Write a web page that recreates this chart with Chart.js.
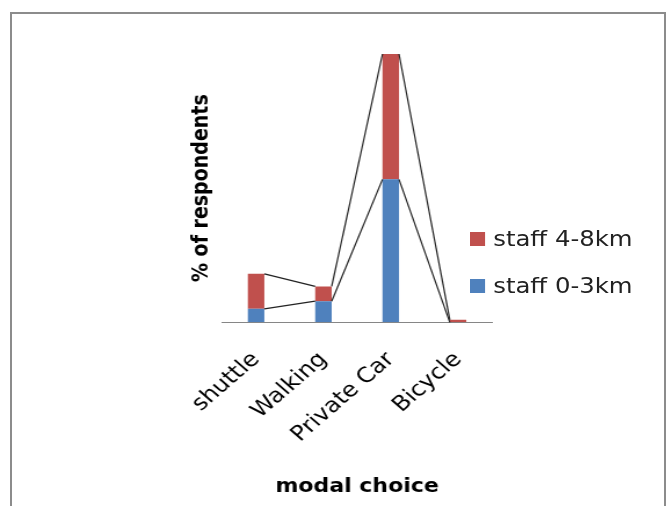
<!DOCTYPE html>
<html lang="en">
<head>
    <meta charset="UTF-8">
    <title>Modal choice</title>
    <script src="https://cdn.jsdelivr.net/npm/chart.js"></script>
    <style>
        html, body {
            margin: 0;
            padding: 0;
            width: 668px;
            height: 506px;
            overflow: hidden;
            background: #fff;
        }
        .frame {
            position: absolute;
            left: 10px;
            top: 12px;
            width: 652px;
            height: 600px;
            border: 2px solid #8c8c8c;
        }
        #chart {
            position: absolute;
            left: 0;
            top: 0;
        }
        .legend {
            position: absolute;
            left: 470px;
            top: 215px;
            transform: scaleX(1.16);
            transform-origin: 0 0;
            font-family: "DejaVu Sans", sans-serif;
            font-size: 21px;
            color: #222;
        }
        .legend-item {
            display: flex;
            align-items: center;
            height: 47px;
        }
        .legend-box {
            width: 13px;
            height: 14px;
            margin-right: 7px;
        }
    </style>
</head>
<body>
    <div class="frame"></div>
    <!-- canvas is drawn narrower and stretched sideways, like the original picture -->
    <canvas id="chart" width="576" height="506" style="width:668px;height:506px"></canvas>
    <div class="legend" id="legend"></div>

    <script>
        const modes = ['shuttle', 'Walking', 'Private Car', 'Bicycle'];
        const staffNear = [7.6, 11.9, 80.5, 0];   // staff 0-3km, %
        const staffFar = [19.7, 8.3, 70.6, 1.4];  // staff 4-8km, %
        const seriesNames = ['staff 0-3km', 'staff 4-8km'];
        const seriesColors = ['#4F81BD', '#C0504D'];

        // Excel-style series lines joining the tops of stacked bars
        const seriesLines = {
            id: 'seriesLines',
            afterDatasetsDraw(chart) {
                const ctx = chart.ctx;
                ctx.save();
                ctx.strokeStyle = '#222';
                ctx.lineWidth = 1.2;
                chart.data.datasets.forEach((ds, d) => {
                    const bars = chart.getDatasetMeta(d).data;
                    for (let i = 0; i < bars.length - 1; i++) {
                        const a = bars[i].getProps(['x', 'y', 'width'], true);
                        const b = bars[i + 1].getProps(['x', 'y', 'width'], true);
                        ctx.beginPath();
                        ctx.moveTo(a.x + a.width / 2, a.y);
                        ctx.lineTo(b.x - b.width / 2, b.y);
                        ctx.stroke();
                    }
                });
                ctx.restore();
            }
        };

        var chart = new Chart(document.getElementById('chart'), {
            type: 'bar',
            data: {
                labels: modes,
                datasets: [{
                    label: seriesNames[0],
                    data: staffNear,
                    backgroundColor: seriesColors[0],
                    barPercentage: 0.245,
                    categoryPercentage: 1
                }, {
                    label: seriesNames[1],
                    data: staffFar,
                    backgroundColor: seriesColors[1],
                    barPercentage: 0.245,
                    categoryPercentage: 1
                }]
            },
            options: {
                responsive: false,
                animation: false,
                layout: {
                    padding: { left: 160, right: 152, top: 54, bottom: 4 }
                },
                plugins: {
                    legend: { display: false },
                    tooltip: { enabled: false }
                },
                scales: {
                    x: {
                        stacked: true,
                        grid: { display: false, drawTicks: false },
                        border: { display: true, color: '#868686', width: 1 },
                        ticks: {
                            autoSkip: false,
                            minRotation: 45,
                            maxRotation: 45,
                            padding: 25,
                            color: '#000',
                            font: { family: 'DejaVu Sans', size: 21 }
                        },
                        title: {
                            display: true,
                            text: 'modal choice',
                            color: '#000',
                            padding: { top: 3, bottom: 4 },
                            font: { family: 'DejaVu Sans', size: 19, weight: 'bold' }
                        }
                    },
                    y: {
                        stacked: true,
                        min: 0,
                        max: staffNear[2] + staffFar[2],
                        grid: { display: false, drawTicks: false },
                        border: { display: false },
                        ticks: { display: false },
                        title: {
                            display: true,
                            text: '% of respondents',
                            color: '#000',
                            padding: { top: 3, bottom: 6 },
                            font: { family: 'DejaVu Sans', size: 19, weight: 'bold' }
                        }
                    }
                }
            },
            plugins: [seriesLines]
        });

        // legend, top entry is the upper stack
        const legend = document.getElementById('legend');
        for (let i = seriesNames.length - 1; i >= 0; i--) {
            const item = document.createElement('div');
            item.className = 'legend-item';
            item.innerHTML = '<span class="legend-box" style="background:' + seriesColors[i] + '"></span>' + seriesNames[i];
            legend.appendChild(item);
        }
    </script>
</body>
</html>
